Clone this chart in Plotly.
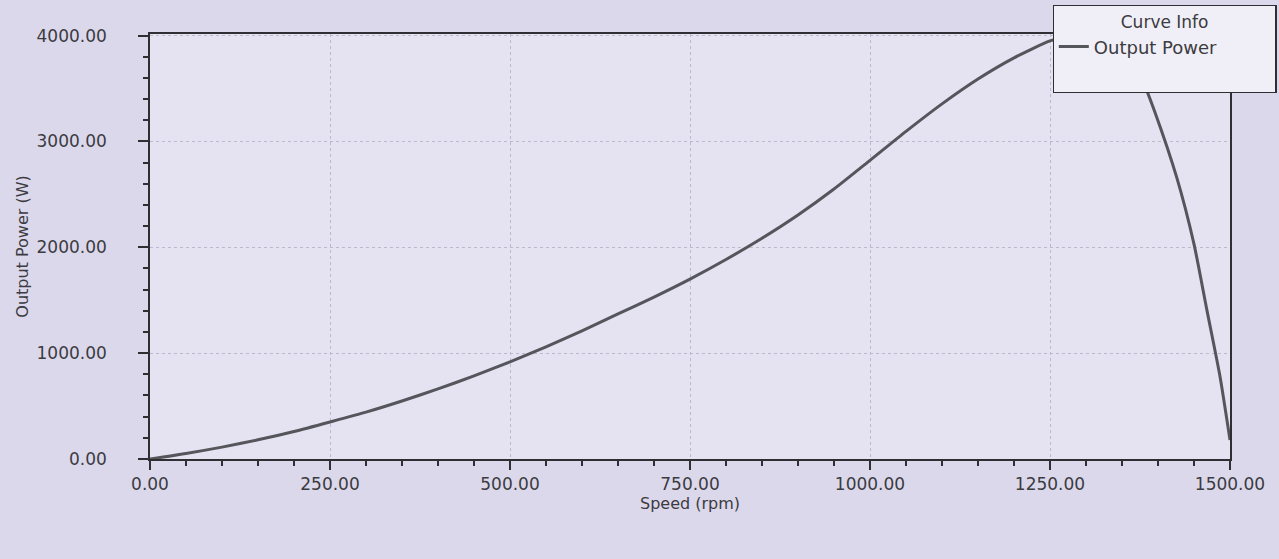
import plotly.graph_objects as go

# Speed (rpm) and output power (W)
speed_rpm = [0, 50, 100, 150, 200, 250, 300, 350, 400, 450, 500, 550, 600, 650, 700,
             750, 800, 850, 900, 950, 1000, 1050, 1100, 1150, 1200, 1250, 1280, 1300,
             1320, 1340, 1360, 1380, 1396, 1426, 1450, 1468, 1486, 1500]
output_power_w = [0, 52, 112, 181, 260, 350, 443, 548, 662, 785, 918, 1060, 1210, 1370, 1530,
                  1700, 1885, 2085, 2305, 2550, 2821, 3095, 3355, 3590, 3790, 3950, 4000, 4008,
                  4002, 3952, 3802, 3552, 3272, 2660, 2030, 1404, 785, 180]

x_ticks = [0, 250, 500, 750, 1000, 1250, 1500]
y_ticks = [0, 1000, 2000, 3000, 4000]

text_color = "#3b3b40"
axis_color = "#2e2e33"
grid_color = "#bcb9cf"
font_family = "DejaVu Sans, Verdana, sans-serif"
pad = "\u00a0" * 12

fig = go.Figure()
fig.add_trace(go.Scatter(
    x=speed_rpm, y=output_power_w, mode="lines", name="Output Power",
    line=dict(color="#55555c", width=3, shape="spline", smoothing=0.6),
))
# blank legend row so the legend box keeps its empty lower area
fig.add_trace(go.Scatter(x=[None], y=[None], mode="lines", name="\u00a0",
                         line=dict(color="rgba(0,0,0,0)", width=0), hoverinfo="skip"))

fig.update_layout(
    width=1279, height=559,
    margin=dict(l=150, r=49, t=34, b=100, autoexpand=False),
    paper_bgcolor="#dcd8ec",
    plot_bgcolor="#e5e2f2",
    font=dict(family=font_family, size=16, color=text_color),
    showlegend=True,
    legend=dict(
        xref="container", yref="container",
        x=0.823, y=0.991, xanchor="left", yanchor="top",
        bgcolor="#f0eff7", bordercolor=axis_color, borderwidth=1.2,
        title=dict(text=pad + "Curve Info" + pad, side="top center",
                   font=dict(size=17, color=text_color)),
        font=dict(size=18, color=text_color),
        tracegroupgap=0,
        itemclick=False,
    ),
)

fig.update_xaxes(
    range=[0, 1500], tickvals=x_ticks, tickformat=".2f",
    showline=True, linecolor=axis_color, linewidth=1.5, mirror=True,
    ticks="outside", ticklen=9, tickwidth=1.5, tickcolor=axis_color,
    showgrid=True, gridcolor=grid_color, griddash="dot", gridwidth=1,
    zeroline=False,
    minor=dict(dtick=50, ticks="outside", ticklen=5, tickwidth=1.5, tickcolor=axis_color, showgrid=False),
    title=dict(text="Speed (rpm)", standoff=0, font=dict(size=16, color=text_color)),
    tickfont=dict(size=17, color=text_color),
)
fig.update_yaxes(
    range=[0, 4015], tickvals=y_ticks, tickformat=".2f",
    showline=True, linecolor=axis_color, linewidth=1.5, mirror=True,
    ticks="outside", ticklen=10, tickwidth=1.5, tickcolor=axis_color,
    showgrid=True, gridcolor=grid_color, griddash="dot", gridwidth=1,
    zeroline=False,
    minor=dict(dtick=200, ticks="outside", ticklen=5, tickwidth=1.5, tickcolor=axis_color, showgrid=False),
    ticklabelstandoff=28,
    title=dict(text="Output Power (W)", standoff=4, font=dict(size=16, color=text_color)),
    tickfont=dict(size=17, color=text_color),
)

fig.write_html(
    "out.html",
    config={"displayModeBar": False},
    post_script="document.body.style.margin='0';document.body.style.background='#dcd8ec';",
)
